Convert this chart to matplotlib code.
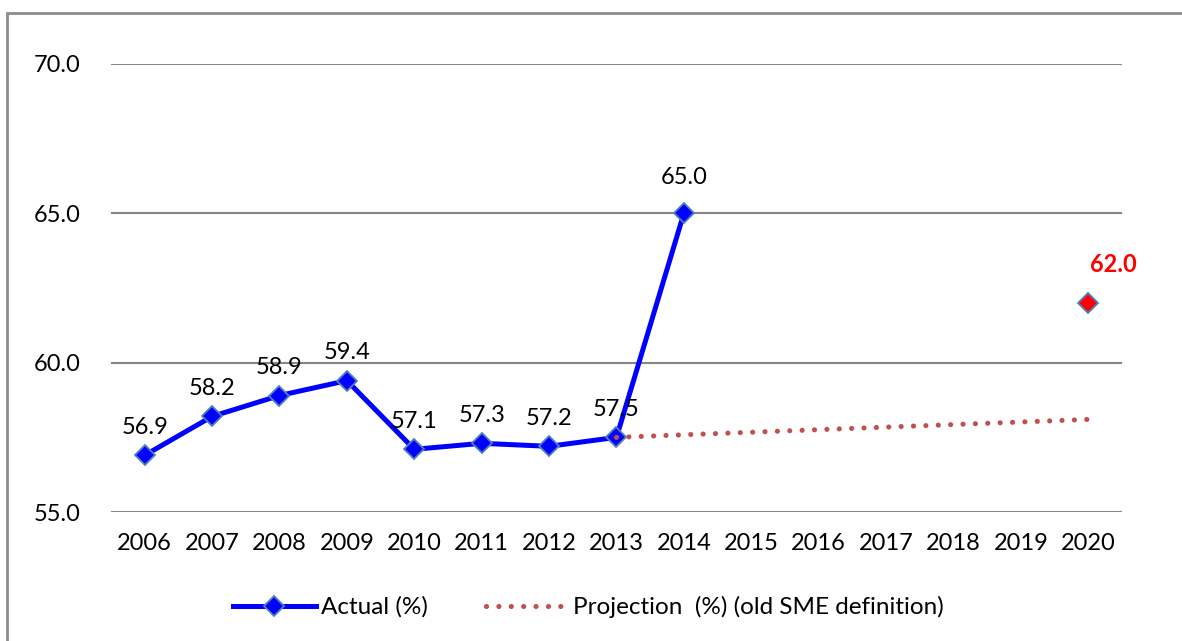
import matplotlib.pyplot as plt
from matplotlib.lines import Line2D
from matplotlib.patches import Rectangle

plt.rcParams['font.family'] = ['Lato', 'DejaVu Sans']

years = list(range(2006, 2021))
actual_years = [2006, 2007, 2008, 2009, 2010, 2011, 2012, 2013, 2014]
actual = [56.9, 58.2, 58.9, 59.4, 57.1, 57.3, 57.2, 57.5, 65.0]
proj_years = [2013, 2020]
projection = [57.5, 58.1]
target_year = 2020
target = 62.0
yticks = [55.0, 60.0, 65.0, 70.0]

fs = 17
dots = (0, (0.01, 2.4))

fig = plt.figure(figsize=(11.82, 6.41), dpi=100)
ax = fig.add_axes([0.0939, 0.2012, 0.8553, 0.699])

# outer frame (cut off at right and bottom like the reference)
fig.patches.append(Rectangle((7 / 1182, -0.05), 1.2, 1 - 13 / 641 + 0.05,
                             transform=fig.transFigure, fill=False,
                             edgecolor='#8c8c8c', linewidth=2))

for y in yticks:
    ax.axhline(y, color='#868686', linewidth=1.5, zorder=0)

ax.plot(proj_years, projection, color='#C0504D', linestyle=dots,
        linewidth=3.7, dash_capstyle='round', zorder=3)
ax.plot(actual_years, actual, color='#0000FF', linewidth=3.6, marker='D',
        markersize=10, markerfacecolor='#0000FF', markeredgecolor='#4F81BD',
        markeredgewidth=1.3, zorder=2)
ax.plot([target_year], [target], linestyle='none', marker='D', markersize=10,
        markerfacecolor='#FF0000', markeredgecolor='#4F81BD',
        markeredgewidth=1.3, zorder=4)

for x, v in zip(actual_years, actual):
    off = 26 if v == max(actual) else 20
    ax.annotate(f'{v:.1f}', (x, v), xytext=(0, off), textcoords='offset points',
                ha='center', va='center', fontsize=fs, color='black')
ax.annotate(f'{target:.1f}', (target_year, target), xytext=(18, 28),
            textcoords='offset points', ha='center', va='center',
            fontsize=fs, color='#FF0000', fontweight='bold')

ax.set_xlim(2005.5, 2020.5)
ax.set_ylim(55, 70)
ax.set_xticks(years)
ax.set_xticklabels([str(y) for y in years])
ax.set_yticks(yticks)
ax.set_yticklabels([f'{y:.1f}' for y in yticks])
ax.tick_params(axis='both', length=0, labelsize=fs)
ax.tick_params(axis='x', pad=15)
ax.tick_params(axis='y', pad=22)
for s in ax.spines.values():
    s.set_visible(False)

handles = [
    Line2D([], [], color='#0000FF', linewidth=3.6, marker='D', markersize=10,
           markerfacecolor='#0000FF', markeredgecolor='#4F81BD',
           markeredgewidth=1.3),
    Line2D([], [], color='#C0504D', linestyle=dots, linewidth=3.7,
           dash_capstyle='round'),
]
fig.legend(handles, ['Actual (%)', 'Projection  (%) (old SME definition)'],
           loc='center', bbox_to_anchor=(0.498, 0.053), ncol=2, frameon=False,
           fontsize=17.5, handlelength=3.4, columnspacing=2.4, handletextpad=0.2)

fig.savefig('out.png', dpi=100)
